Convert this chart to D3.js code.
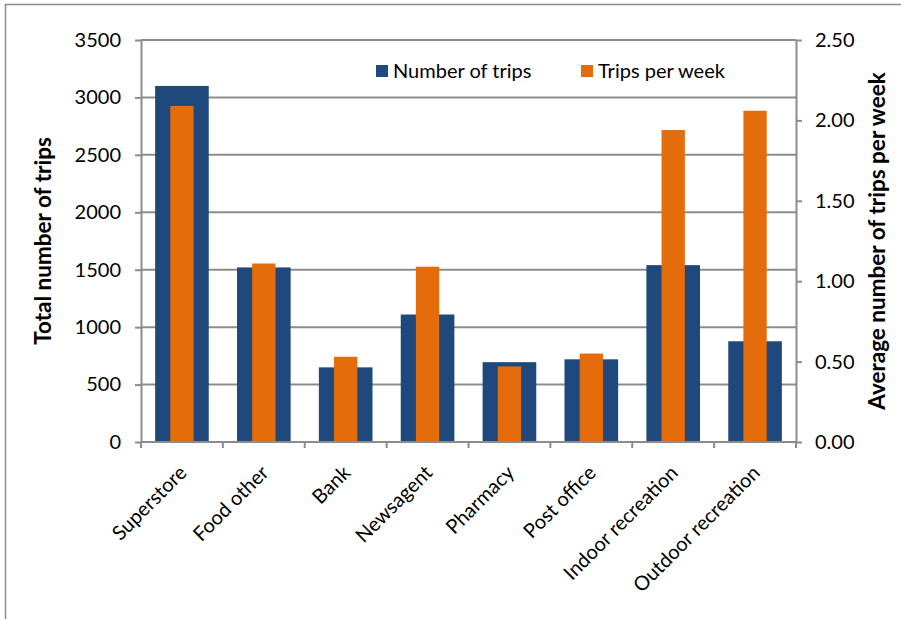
<!DOCTYPE html>
<html>
<head>
<meta charset="utf-8">
<script src="https://cdn.jsdelivr.net/npm/d3@7"></script>
<style>
  body { margin: 0; background: #fff; }
  text { font-family: Lato, "Open Sans", sans-serif; fill: #000; }
</style>
</head>
<body>
<div id="chart"></div>
<script>
// categories and values
const categories = ["Superstore", "Food other", "Bank", "Newsagent", "Pharmacy",
  "Post office", "Indoor recreation", "Outdoor recreation"];
const numberOfTrips = [3100, 1520, 650, 1110, 695, 720, 1540, 877];
const tripsPerWeek = [2.09, 1.11, 0.53, 1.09, 0.47, 0.55, 1.94, 2.06];
const leftTicks = [0, 500, 1000, 1500, 2000, 2500, 3000, 3500];
const rightTicks = [0, 0.5, 1, 1.5, 2, 2.5];

const width = 901, height = 619;
const margin = { top: 40, right: 105, bottom: 177, left: 141 };
const w = width - margin.left - margin.right;
const h = height - margin.top - margin.bottom;

const blue = "#1f497d", orange = "#e46c0a", grid = "#8c8c8c";

const svg = d3.select("#chart").append("svg")
  .attr("width", width).attr("height", height);

// outer frame
svg.append("rect")
  .attr("x", 5.5).attr("y", 4.5)
  .attr("width", 1000).attr("height", 1000)
  .attr("fill", "none").attr("stroke", grid).attr("stroke-width", 1.5);

const g = svg.append("g")
  .attr("transform", `translate(${margin.left}, ${margin.top})`);

const x = d3.scaleBand().domain(categories).range([0, w]);
const yL = d3.scaleLinear().domain([0, 3500]).range([h, 0]);
const yR = d3.scaleLinear().domain([0, 2.5]).range([h, 0]);

// GRID
g.append("g").selectAll("line")
  .data(leftTicks.slice(1))
  .enter().append("line")
  .attr("x1", 0).attr("x2", w)
  .attr("y1", (d) => yL(d)).attr("y2", (d) => yL(d))
  .attr("stroke", grid).attr("stroke-width", 2);

// BARS
const blueW = x.bandwidth() * 0.655;
const orangeW = x.bandwidth() * 0.285;

g.append("g").selectAll("rect")
  .data(numberOfTrips)
  .enter().append("rect")
  .attr("x", (d, i) => x(categories[i]) + (x.bandwidth() - blueW) / 2)
  .attr("y", (d) => yL(d))
  .attr("width", blueW)
  .attr("height", (d) => h - yL(d))
  .attr("fill", blue);

g.append("g").selectAll("rect")
  .data(tripsPerWeek)
  .enter().append("rect")
  .attr("x", (d, i) => x(categories[i]) + (x.bandwidth() - orangeW) / 2)
  .attr("y", (d) => yR(d))
  .attr("width", orangeW)
  .attr("height", (d) => h - yR(d))
  .attr("fill", orange);

// AXES
const axisStyle = (sel) => {
  sel.select(".domain").attr("stroke", grid).attr("stroke-width", 2);
  sel.selectAll(".tick line").attr("stroke", grid).attr("stroke-width", 2);
  sel.selectAll("text").style("font-size", "20px").style("font-family", "Lato, sans-serif");
};

g.append("g")
  .call(d3.axisLeft(yL).tickValues(leftTicks).tickSize(6).tickSizeOuter(0)
    .tickPadding(14).tickFormat(d3.format("d")))
  .call(axisStyle);

g.append("g")
  .attr("transform", `translate(${w}, 0)`)
  .call(d3.axisRight(yR).tickValues(rightTicks).tickSize(6).tickSizeOuter(0)
    .tickPadding(13).tickFormat(d3.format(".2f")))
  .call(axisStyle);

// x axis: ticks at category boundaries
const xAxis = g.append("g").attr("transform", `translate(0, ${h})`);
xAxis.append("line")
  .attr("x1", 0).attr("x2", w)
  .attr("stroke", grid).attr("stroke-width", 2);
xAxis.selectAll(".bound")
  .data(categories.concat([null]))
  .enter().append("line")
  .attr("class", "bound")
  .attr("x1", (d, i) => i * x.step()).attr("x2", (d, i) => i * x.step())
  .attr("y1", 0).attr("y2", 6)
  .attr("stroke", grid).attr("stroke-width", 2);

xAxis.selectAll(".xlabel")
  .data(categories)
  .enter().append("text")
  .attr("class", "xlabel")
  .attr("transform", (d) => `translate(${x(d) + x.bandwidth() / 2 + 6}, 32) rotate(-45)`)
  .attr("text-anchor", "end")
  .style("font-size", "20px")
  .text((d) => d);

// AXIS TITLES
svg.append("text")
  .attr("transform", `translate(51, ${margin.top + h / 2}) rotate(-90)`)
  .attr("text-anchor", "middle")
  .style("font-size", "22.5px").style("font-weight", "bold")
  .text("Total number of trips");

svg.append("text")
  .attr("transform", `translate(885, ${margin.top + h / 2}) rotate(-90)`)
  .attr("text-anchor", "middle")
  .style("font-size", "22.5px").style("font-weight", "bold")
  .text("Average number of trips per week");

// LEGEND
const legendItems = [
  { label: "Number of trips", color: blue, x: 376 },
  { label: "Trips per week", color: orange, x: 581 },
];
const legend = svg.append("g").selectAll("g")
  .data(legendItems)
  .enter().append("g")
  .attr("transform", (d) => `translate(${d.x}, 65)`);
legend.append("rect")
  .attr("width", 12).attr("height", 12)
  .attr("fill", (d) => d.color);
legend.append("text")
  .attr("x", 17).attr("y", 13)
  .style("font-size", "20px")
  .text((d) => d.label);
</script>
</body>
</html>
